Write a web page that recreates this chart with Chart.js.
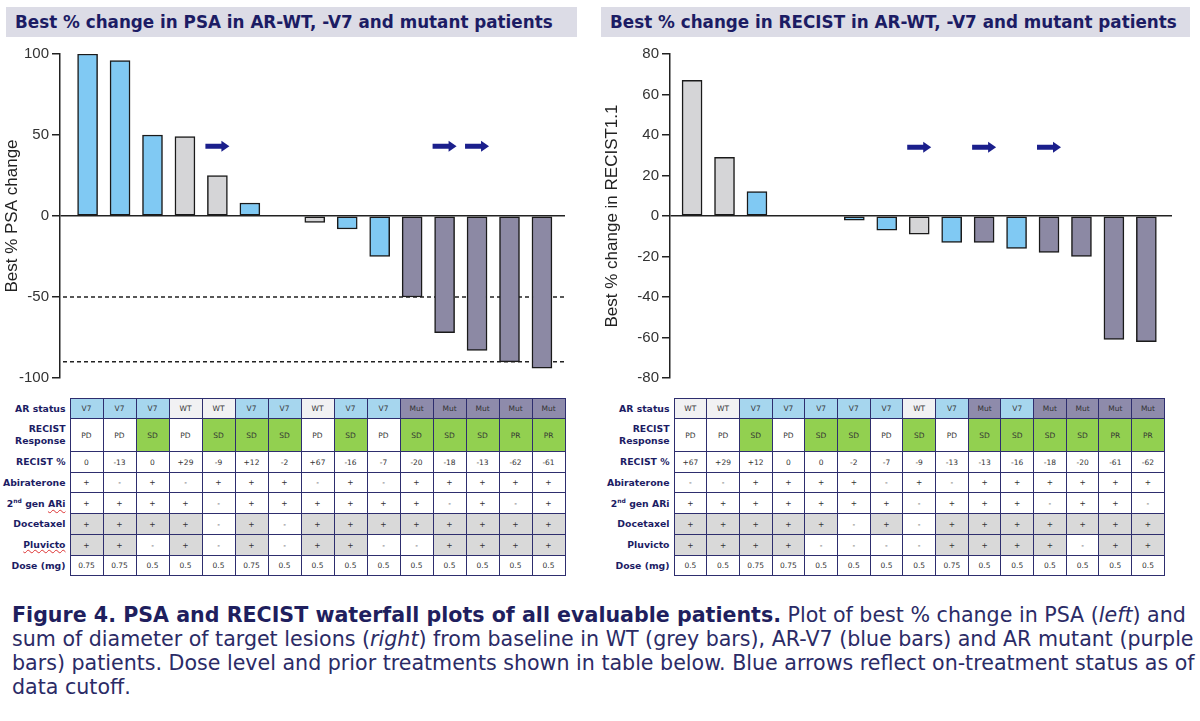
<!DOCTYPE html>
<html>
<head>
<meta charset="utf-8">
<script src="https://cdn.jsdelivr.net/npm/chart.js@4"></script>
<style>
  body { margin: 0; background: #fff; width: 1200px; height: 721px; position: relative; overflow: hidden; font-family: "DejaVu Sans", sans-serif; }
  .title { position: absolute; top: 7px; height: 30px; background: #dcdce6; color: #1c1c64; font-weight: bold; font-size: 16.8px; line-height: 30px; padding-left: 9px; box-sizing: border-box; white-space: nowrap; }
  .box { position: absolute; top: 40px; width: 590px; height: 350px; }
  table.tbl { position: absolute; top: 398px; border-collapse: collapse; table-layout: fixed; }
  .tbl td { border: 1.5px solid #2e2e6e; text-align: center; font-size: 7.5px; color: #333; padding: 0; overflow: hidden; }
  .tbl td.lab { border: none; text-align: right; font-weight: bold; font-size: 9.3px; color: #1c1c64; padding-right: 4px; line-height: 12px; }
  .squig { text-decoration: underline wavy #d33; text-decoration-thickness: 1px; }
  .caption { position: absolute; left: 12px; top: 603px; font-size: 20.6px; line-height: 24px; color: #2b2b66; white-space: nowrap; }
  .caption b { color: #1f1f5e; }
</style>
</head>
<body>
<div class="title" style="left:6px;width:571px">Best % change in PSA in AR-WT, -V7 and mutant patients</div>
<div class="title" style="left:601px;width:589px">Best % change in RECIST in AR-WT, -V7 and mutant patients</div>
<div class="box" style="left:0"><canvas id="psaChart"></canvas></div>
<div class="box" style="left:600px"><canvas id="recistChart"></canvas></div>
<table class="tbl" id="psaTable" style="left:0"></table>
<table class="tbl" id="recistTable" style="left:600px"></table>
<div class="caption">
<b>Figure 4. PSA and RECIST waterfall plots of all evaluable patients.</b> Plot of best % change in PSA (<i>left</i>) and<br>
sum of diameter of target lesions (<i>right</i>) from baseline in WT (grey bars), AR-V7 (blue bars) and AR mutant (purple<br>
bars) patients. Dose level and prior treatments shown in table below. Blue arrows reflect on-treatment status as of<br>
data cutoff.
</div>
<script>
// PSA waterfall (left)
const psaStatus = ['V7','V7','V7','WT','WT','V7','V7','WT','V7','V7','Mut','Mut','Mut','Mut','Mut'];
const psaChange = [100, 96, 50, 49, 25, 8, 0, -4, -8, -25, -50, -72, -83, -90, -94];
const psaResp  = ['PD','PD','SD','PD','SD','SD','SD','PD','SD','PD','SD','SD','SD','PR','PR'];
const psaRecPct = ['0','-13','0','+29','-9','+12','-2','+67','-16','-7','-20','-18','-13','-62','-61'];
const psaAbi  = ['+','-','+','-','+','+','+','-','+','-','+','+','+','+','+'];
const psaAri  = ['+','+','+','+','-','+','+','+','+','+','+','-','+','-','+'];
const psaDoc  = ['+','+','+','+','-','+','-','+','+','+','+','+','+','+','+'];
const psaPluv = ['+','+','-','+','-','+','-','+','+','-','-','+','+','+','+'];
const psaDose = ['0.75','0.75','0.5','0.5','0.5','0.75','0.5','0.5','0.5','0.5','0.5','0.5','0.5','0.5','0.5'];
const psaTicks = [-100, -50, 0, 50, 100];
const psaCutoffs = [-50, -90];
const psaOnTreatment = [4, 11, 12];

// RECIST waterfall (right)
const recStatus = ['WT','WT','V7','V7','V7','V7','V7','WT','V7','Mut','V7','Mut','Mut','Mut','Mut'];
const recChange = [67, 29, 12, 0, 0, -2, -7, -9, -13, -13, -16, -18, -20, -61, -62];
const recResp  = ['PD','PD','SD','PD','SD','SD','PD','SD','PD','SD','SD','SD','SD','PR','PR'];
const recPct   = ['+67','+29','+12','0','0','-2','-7','-9','-13','-13','-16','-18','-20','-61','-62'];
const recAbi  = ['-','-','+','+','+','+','-','+','-','+','+','+','+','+','+'];
const recAri  = ['+','+','+','+','+','+','+','-','+','+','+','-','+','+','-'];
const recDoc  = ['+','+','+','+','+','-','+','-','+','+','+','+','+','+','+'];
const recPluv = ['+','+','+','+','-','-','-','-','+','+','+','+','-','+','+'];
const recDose = ['0.5','0.5','0.75','0.75','0.5','0.5','0.5','0.5','0.75','0.5','0.5','0.5','0.5','0.5','0.5'];
const recTicks = [-80, -60, -40, -20, 0, 20, 40, 60, 80];
const recOnTreatment = [7, 9, 11];

const barColor = { V7: '#80c9f3', WT: '#d5d5d7', Mut: '#8c89a4' };
const cellColor = { V7: '#a6d6ee', WT: '#f1f1f3', Mut: '#8e8bab' };
const respColor = { SD: '#92d050', PR: '#92d050', PD: '#ffffff' };

const overlay = {
  id: 'overlay',
  beforeDatasetsDraw(chart, args, opts) {
    const { ctx, chartArea, scales: { y } } = chart;
    ctx.save();
    ctx.strokeStyle = '#222';
    ctx.lineWidth = 1.5;
    ctx.setLineDash([4, 3]);
    (opts.lines || []).forEach(v => {
      const py = y.getPixelForValue(v);
      ctx.beginPath();
      ctx.moveTo(chartArea.left + 3, py);
      ctx.lineTo(chartArea.right, py);
      ctx.stroke();
    });
    ctx.restore();
  },
  afterDatasetsDraw(chart, args, opts) {
    const { ctx, scales: { x, y } } = chart;
    ctx.save();
    ctx.fillStyle = '#1b1f8c';
    (opts.arrows || []).forEach(i => {
      const cx = x.getPixelForValue(i), cy = y.getPixelForValue(opts.arrowY);
      ctx.beginPath();
      ctx.moveTo(cx - 12, cy - 2.5);
      ctx.lineTo(cx + 4, cy - 2.5);
      ctx.lineTo(cx + 4, cy - 5.5);
      ctx.lineTo(cx + 12, cy);
      ctx.lineTo(cx + 4, cy + 5.5);
      ctx.lineTo(cx + 4, cy + 2.5);
      ctx.lineTo(cx - 12, cy + 2.5);
      ctx.closePath();
      ctx.fill();
    });
    ctx.restore();
  }
};

function waterfall(id, status, values, ticks, yTitle, xMin, xMax, axisW, padRight, lines, arrows, arrowY) {
  return new Chart(document.getElementById(id), {
    type: 'bar',
    data: {
      datasets: [{
        data: values.map((v, i) => ({ x: i, y: v })),
        backgroundColor: status.map(s => barColor[s]),
        borderColor: '#1a1a1a',
        borderWidth: 1.5,
        borderSkipped: false,
        barThickness: 20
      }]
    },
    options: {
      responsive: true,
      maintainAspectRatio: false,
      animation: false,
      layout: { padding: { top: 14, bottom: 12, right: padRight, left: 0 } },
      plugins: {
        legend: { display: false },
        tooltip: { enabled: false },
        overlay: { lines: lines, arrows: arrows, arrowY: arrowY }
      },
      scales: {
        x: { type: 'linear', min: xMin, max: xMax, offset: false, display: false },
        y: {
          min: ticks[0], max: ticks[ticks.length - 1],
          afterBuildTicks: s => { s.ticks = ticks.map(v => ({ value: v })); },
          afterFit: s => { s.width = axisW; },
          ticks: { color: '#333', font: { family: 'Liberation Sans', size: 15 }, padding: 3 },
          grid: {
            color: c => (c.tick && c.tick.value === 0) ? '#222' : 'rgba(0,0,0,0)',
            tickColor: '#222', tickLength: 8, lineWidth: 1.5, drawOnChartArea: true
          },
          border: { display: true, color: '#222', width: 1.5 },
          title: { display: true, text: yTitle, color: '#222', font: { family: 'Liberation Sans', size: 17 }, padding: { top: 2, bottom: 0 } }
        }
      }
    },
    plugins: [overlay]
  });
}

waterfall('psaChart', psaStatus, psaChange, psaTicks, 'Best % PSA change', -0.85, 14.71, 60, 25, psaCutoffs, psaOnTreatment, 43);
waterfall('recistChart', recStatus, recChange, recTicks, 'Best % change in RECIST1.1', -0.68, 14.79, 70, 18, [], recOnTreatment, 34);

function buildTable(id, labW, colW, rows) {
  const t = document.getElementById(id);
  const heights = [20, 33, 21, 20, 21, 21, 21, 20];
  let html = '<colgroup><col style="width:' + labW + 'px">';
  for (let i = 0; i < 15; i++) html += '<col style="width:' + colW + 'px">';
  html += '</colgroup>';
  rows.forEach((r, ri) => {
    html += '<tr style="height:' + heights[ri] + 'px"><td class="lab">' + r.label + '</td>';
    r.vals.forEach(v => {
      const bg = r.fill ? r.fill(v) : '#fff';
      html += '<td style="background:' + bg + '">' + v + '</td>';
    });
    html += '</tr>';
  });
  t.innerHTML = html;
}

const greyPlus = v => v === '+' ? '#d9d9d9' : '#fff';
const ariLabel = sq => '2<sup style="font-size:6px">nd</sup> gen ' + (sq ? '<span class="squig">ARi</span>' : 'ARi');

buildTable('psaTable', 70, 33, [
  { label: 'AR status', vals: psaStatus, fill: v => cellColor[v] },
  { label: 'RECIST<br>Response', vals: psaResp, fill: v => respColor[v] },
  { label: 'RECIST %', vals: psaRecPct },
  { label: 'Abiraterone', vals: psaAbi },
  { label: ariLabel(true), vals: psaAri },
  { label: 'Docetaxel', vals: psaDoc, fill: greyPlus },
  { label: '<span class="squig">Pluvicto</span>', vals: psaPluv, fill: greyPlus },
  { label: 'Dose (mg)', vals: psaDose }
]);
buildTable('recistTable', 74, 32.7, [
  { label: 'AR status', vals: recStatus, fill: v => cellColor[v] },
  { label: 'RECIST<br>Response', vals: recResp, fill: v => respColor[v] },
  { label: 'RECIST %', vals: recPct },
  { label: 'Abiraterone', vals: recAbi },
  { label: ariLabel(false), vals: recAri },
  { label: 'Docetaxel', vals: recDoc, fill: greyPlus },
  { label: 'Pluvicto', vals: recPluv, fill: greyPlus },
  { label: 'Dose (mg)', vals: recDose }
]);
</script>
</body>
</html>
